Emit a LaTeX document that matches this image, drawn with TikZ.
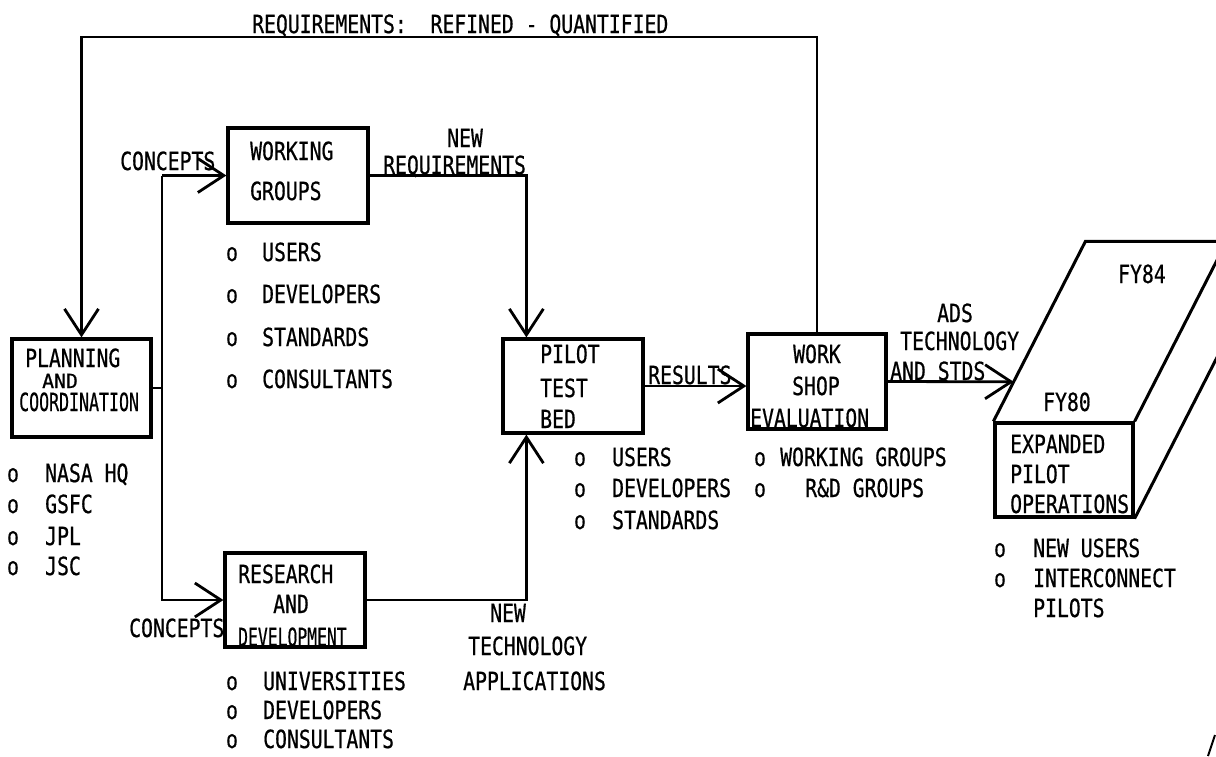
\documentclass[tikz,border=0pt]{standalone}
\usepackage{fontspec}
\newfontfamily\tw{DejaVu Sans Mono}[FakeStretch=0.79,FakeBold=0.6]
\usetikzlibrary{arrows.meta,calc}
\begin{document}
\begin{tikzpicture}[x=1pt,y=-1pt,
  box/.style={draw, line width=3.2pt, inner sep=0pt},
  lab/.style={inner sep=0pt, anchor=base west, font=\tw\fontsize{25}{30}\selectfont},
  bul/.style={lab, anchor=base},
  conn/.style={line width=2.8pt},
  arr/.style={conn, -{Straight Barb[length=26pt,width=34pt]}}]
\useasboundingbox (0,0) rectangle (1216,756);
\fill[white] (0,0) rectangle (1216,756);
\clip (0,0) rectangle (1216,756);

% boxes
\node[box, minimum width=139pt, minimum height=98pt] (plan) at (81.5,388) {};
\node[box, minimum width=140pt, minimum height=95pt] (wg) at (298,175.5) {};
\node[box, minimum width=140pt, minimum height=94pt] (rd) at (295,600) {};
\node[box, minimum width=140pt, minimum height=94pt] (pilot) at (573,386) {};
\node[box, minimum width=138pt, minimum height=95pt] (ws) at (817,381.5) {};
\node[box, minimum width=138pt, minimum height=94pt] (exp) at (1064,470) {};

% 3-D slab behind expanded box
\coordinate (eb) at ($(exp.north west)+(92,-180)$);
\draw[line width=3pt] (exp.north west) -- (eb) -- ++(200,0);
\draw[line width=3pt] (exp.north east) -- ++(92,-180);
\draw[line width=3pt] (exp.south east) -- ++(92,-180);

% box texts
\node[lab] (t1) at (25,367) {PLANNING};
\node[lab, yscale=0.78] (t2) at (42,388) {AND};
\node[lab, xscale=0.84] (t3) at (19,411) {COORDINATION};
\node[lab] (t4) at (250,160) {WORKING};
\node[lab] (t5) at (250,200) {GROUPS};
\node[lab] (t6) at (238,583) {RESEARCH};
\node[lab] (t7) at (273,613) {AND};
\node[lab, xscale=0.83] (t8) at (238,646) {DEVELOPMENT};
\node[lab] (t9) at (540,363) {PILOT};
\node[lab] (t10) at (540,397) {TEST};
\node[lab] (t11) at (540,428) {BED};
\node[lab] (t12) at (793,363) {WORK};
\node[lab] (t13) at (792,395) {SHOP};
\node[lab] (t14) at (750,427) {EVALUATION};
\node[lab] (t15) at (1010,453) {EXPANDED};
\node[lab] (t16) at (1010,483) {PILOT};
\node[lab] (t17) at (1010,513) {OPERATIONS};
\node[lab] (fy84) at (1118,283) {FY84};
\node[lab] (fy80) at (1043,411) {FY80};

% connector labels
\node[lab] (req) at (252,33) {REQUIREMENTS:~~REFINED - QUANTIFIED};
\node[lab] (c1) at (120,170) {CONCEPTS};
\node[lab] (c2) at (129,637) {CONCEPTS};
\node[lab] (nr1) at (447,147) {NEW};
\node[lab] (nr2) at (383,174) {REQUIREMENTS};
\node[lab] (nt1) at (490,622) {NEW};
\node[lab] (nt2) at (468,655) {TECHNOLOGY};
\node[lab] (nt3) at (463,690) {APPLICATIONS};
\node[lab] (res) at (648,384) {RESULTS};
\node[lab] (ads1) at (937,322) {ADS};
\node[lab] (ads2) at (900,350) {TECHNOLOGY};
\node[lab] (ads3) at (890,380) {AND STDS};

% lists
\node[bul] (pb1) at (13,482) {o}; \node[lab] (pl1) at (45,482) {NASA HQ};
\node[bul] (pb2) at (13,513) {o}; \node[lab] (pl2) at (45,513) {GSFC};
\node[bul] (pb3) at (13,545) {o}; \node[lab] (pl3) at (45,545) {JPL};
\node[bul] (pb4) at (13,575) {o}; \node[lab] (pl4) at (45,575) {JSC};

\node[bul] (wb1) at (232,261) {o}; \node[lab] (wl1) at (262,261) {USERS};
\node[bul] (wb2) at (232,303) {o}; \node[lab] (wl2) at (262,303) {DEVELOPERS};
\node[bul] (wb3) at (232,346) {o}; \node[lab] (wl3) at (262,346) {STANDARDS};
\node[bul] (wb4) at (232,388) {o}; \node[lab] (wl4) at (262,388) {CONSULTANTS};

\node[bul] (rb1) at (232,690) {o}; \node[lab] (rl1) at (263,690) {UNIVERSITIES};
\node[bul] (rb2) at (232,719) {o}; \node[lab] (rl2) at (263,719) {DEVELOPERS};
\node[bul] (rb3) at (232,748) {o}; \node[lab] (rl3) at (263,748) {CONSULTANTS};

\node[bul] (ib1) at (580,466) {o}; \node[lab] (il1) at (612,466) {USERS};
\node[bul] (ib2) at (580,497) {o}; \node[lab] (il2) at (612,497) {DEVELOPERS};
\node[bul] (ib3) at (580,529) {o}; \node[lab] (il3) at (612,529) {STANDARDS};

\node[bul] (sb1) at (760,466) {o}; \node[lab] (sl1) at (780,466) {WORKING GROUPS};
\node[bul] (sb2) at (760,497) {o}; \node[lab] (sl2) at (805,497) {R\&D GROUPS};

\node[bul] (eb1) at (1000,557) {o}; \node[lab] (el1) at (1033,557) {NEW USERS};
\node[bul] (eb2) at (1000,587) {o}; \node[lab] (el2) at (1033,587) {INTERCONNECT};
\node[lab] (el3) at (1033,617) {PILOTS};

% connectors
\coordinate (loop) at (0,37);
\coordinate (split) at (162,0);
\draw[arr] (ws.north) -- (ws.north |- loop) -- (plan.north |- loop) -- (plan.north);
\draw[conn] (plan.east) -- (plan.east -| split);
\draw[arr] (wg.west -| split) -- (rd.west -| split) -- (rd.west);
\draw[arr] (wg.west -| split) -- (wg.west);
\draw[arr] (wg.east) -| ([xshift=25pt]pilot.north west);
\draw[arr] (rd.east) -| ([xshift=25pt]pilot.south west);
\draw[arr] (pilot.east) -- (pilot.east -| ws.west);
\draw[arr] (ws.east) -- ($(exp.north west)!0.22!(eb)$);

% stray mark
\draw[line width=2pt] (1208,756) -- (1215,735);
\end{tikzpicture}
\end{document}
